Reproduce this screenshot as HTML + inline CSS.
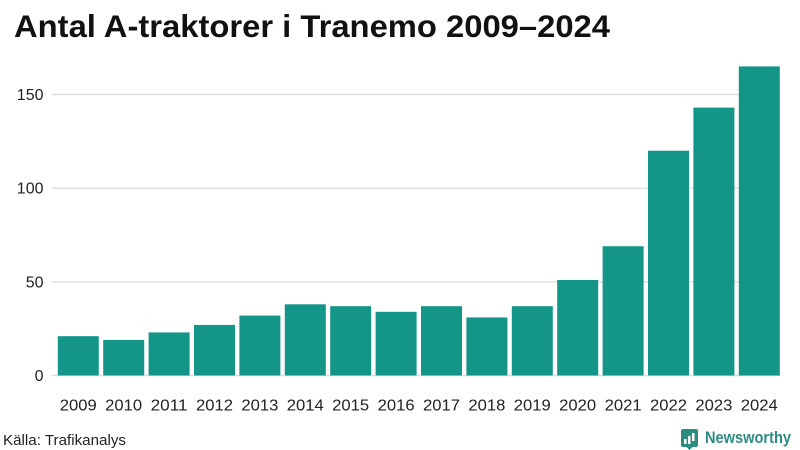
<!DOCTYPE html>
<html lang="sv">
<head>
<meta charset="utf-8">
<title>Antal A-traktorer i Tranemo 2009–2024</title>
<style>
html,body{margin:0;padding:0;background:#fff;width:800px;height:450px;overflow:hidden}
svg{display:block}
text{font-family:"Liberation Sans","DejaVu Sans",sans-serif;fill:#222}
</style>
</head>
<body>
<svg id="chart" width="800" height="450" viewBox="0 0 800 450" xmlns="http://www.w3.org/2000/svg">
  <text x="14" y="37" font-size="31.500" font-weight="700" style="fill:#111" textLength="596" lengthAdjust="spacingAndGlyphs">Antal A-traktorer i Tranemo 2009–2024</text>
  <g id="grid"></g>
  <g id="bars"></g>
  <g id="ylabels"></g>
  <g id="xlabels"></g>
  <text x="3" y="445" font-size="15" textLength="123" lengthAdjust="spacingAndGlyphs">Källa: Trafikanalys</text>
  <g>
    <path fill="#2d8c82" d="M683 429h13a2 2 0 0 1 2 2v14a2 2 0 0 1-2 2h-3.500l-3 3-3-3H683a2 2 0 0 1-2-2v-14a2 2 0 0 1 2-2z"/>
    <rect x="684" y="439" width="2.500" height="5" fill="#fff"/>
    <rect x="688" y="436" width="2.500" height="8" fill="#fff"/>
    <rect x="692" y="433" width="2.500" height="8" fill="#fff"/>
    <text x="705" y="443" font-size="16.500" font-weight="700" style="fill:#2d8c82" textLength="86" lengthAdjust="spacingAndGlyphs">Newsworthy</text>
  </g>
</svg>
<script>
const years = ["2009","2010","2011","2012","2013","2014","2015","2016","2017","2018","2019","2020","2021","2022","2023","2024"];
const antal = [21,19,23,27,32,38,37,34,37,31,37,51,69,120,143,165];
const yTicks = [0,50,100,150];

const NS = "http://www.w3.org/2000/svg";
const plotLeft = 55.6, plotStep = 45.4, barWidth = 41;
const gridLeft = 52, gridRight = 780;
const baseY = 375.5, pxPerUnit = 281 / 150;
const xScale = i => plotLeft + plotStep * i + (plotStep - barWidth) / 2;
const yScale = v => baseY - v * pxPerUnit;

const gridG = document.getElementById("grid");
const barsG = document.getElementById("bars");
const yG = document.getElementById("ylabels");
const xG = document.getElementById("xlabels");

yTicks.forEach(t => {
  const line = document.createElementNS(NS, "line");
  
  
  line.setAttribute("x1", gridLeft);
  line.setAttribute("x2", gridRight);
  line.setAttribute("y1", yScale(t));
  line.setAttribute("y2", yScale(t));
  line.setAttribute("stroke", "#dcdce2");
  line.setAttribute("stroke-width", "1.4");
  gridG.appendChild(line);

  const label = document.createElementNS(NS, "text");
  
  
  label.setAttribute("x", 43.5);
  label.setAttribute("y", yScale(t) + 5.5);
  label.setAttribute("text-anchor", "end");
  label.setAttribute("font-size", "16");
  label.textContent = t;
  yG.appendChild(label);
});

years.forEach((year, i) => {
  const bar = document.createElementNS(NS, "rect");
  
  
  bar.setAttribute("x", xScale(i));
  bar.setAttribute("y", yScale(antal[i]));
  bar.setAttribute("width", barWidth);
  bar.setAttribute("height", baseY - yScale(antal[i]));
  bar.setAttribute("fill", "#139588");
  barsG.appendChild(bar);

  const label = document.createElementNS(NS, "text");
  
  
  label.setAttribute("x", xScale(i) + barWidth / 2);
  label.setAttribute("y", 410.5);
  label.setAttribute("text-anchor", "middle");
  label.setAttribute("font-size", "16");
  label.setAttribute("textLength", "37");
  label.setAttribute("lengthAdjust", "spacingAndGlyphs");
  label.textContent = year;
  xG.appendChild(label);
});
</script>
</body>
</html>
